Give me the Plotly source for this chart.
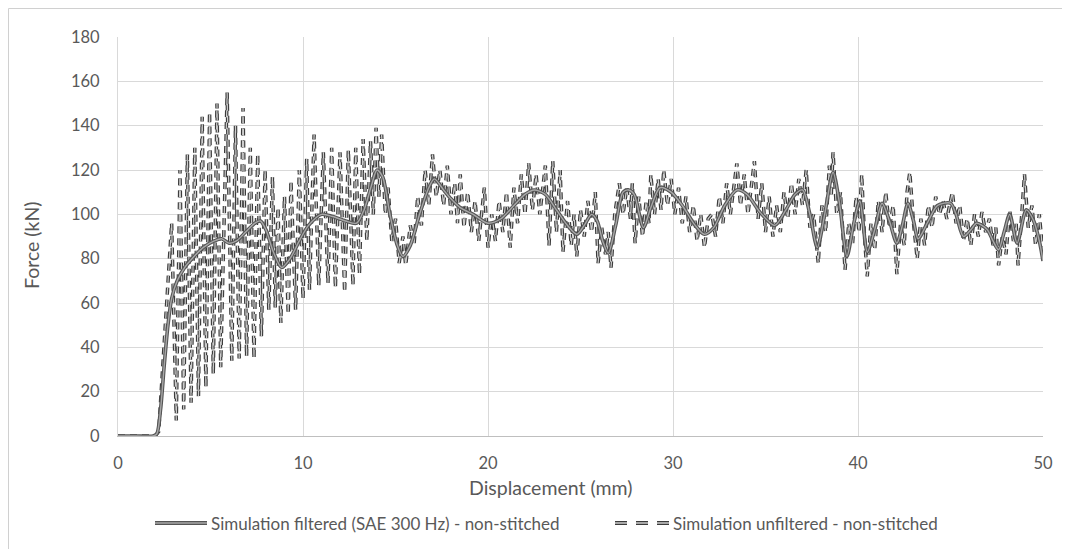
import plotly.graph_objects as go

# ---------------- data ----------------
filt_x = [0.0, 1.0, 1.9, 2.1, 2.3, 2.5, 2.7, 2.9, 3.2, 3.6, 4.0, 4.6, 5.2, 5.6, 6.0, 6.4, 6.9, 7.4, 7.7,
          8.0, 8.4, 8.85, 9.3, 9.8, 10.3, 11.0, 11.6, 12.3, 12.9, 13.3, 13.7, 14.0, 14.3, 14.7, 15.1,
          15.4, 15.8, 16.3, 16.8, 17.1, 17.6, 18.0, 18.5, 19.2, 20.0, 20.7, 21.4, 22.0, 22.5, 23.1,
          23.7, 24.3, 24.8, 25.2, 25.6, 25.9, 26.2, 26.5, 26.9, 27.3, 27.6, 27.9, 28.4, 28.8, 29.3,
          29.9, 30.5, 31.2, 31.7, 32.2, 32.8, 33.45, 34.0, 34.7, 35.5, 36.1, 36.6, 37.0, 37.4, 37.8,
          38.2, 38.65, 39.0, 39.4, 39.75, 40.1, 40.5, 40.9, 41.3, 41.7, 42.1, 42.4, 42.7, 43.0, 43.25,
          43.8, 44.3, 45.0, 45.3, 45.7, 46.1, 46.4, 46.7, 47.0, 47.3, 47.6, 47.9, 48.2, 48.6, 49.1,
          49.5, 49.8, 50.0]
filt_y = [0, 0, 0, 1, 12, 32, 50, 62, 70, 76, 80, 85, 88, 89, 87, 88, 92, 96, 97,
          93, 83, 76, 80, 88, 95, 100, 99, 97, 96, 102, 113, 120, 117, 100, 86,
          81, 86, 100, 112, 116, 111, 107, 103, 100, 96, 98, 104, 109, 111, 109,
          102, 95, 91, 95, 100, 97, 88, 82.5, 95, 110, 111, 109, 94, 103, 112,
          110, 104, 95, 91, 94, 104, 111, 109, 101, 95, 102, 109, 111, 100, 85,
          100, 119, 105, 81, 95, 106, 83, 93, 105, 97, 87, 95, 105, 97, 89,
          97, 104, 105, 100, 90, 93, 96, 95, 93, 88, 84, 92, 100, 87, 102,
          97, 88, 79]

unf_x = [0.0, 1.0, 2.0, 2.2, 2.9, 3.15, 3.35, 3.55, 3.75, 3.95, 4.15, 4.35, 4.55, 4.75, 4.95, 5.15,
         5.35, 5.55, 5.9, 6.15, 6.35, 6.55, 6.76, 6.95, 7.15, 7.35, 7.55, 7.75, 7.95, 8.15, 8.35,
         8.5, 8.65, 8.8, 9.0, 9.2, 9.35, 9.6, 9.8, 10.0, 10.2, 10.35, 10.6, 10.85, 11.1, 11.35,
         11.55, 11.75, 12.0, 12.25, 12.45, 12.7, 12.85, 13.05, 13.25, 13.45, 13.65, 13.8, 13.95,
         14.1, 14.25, 14.45, 14.6, 14.8, 15.0, 15.2, 15.4, 15.55, 15.8, 16.0, 16.2, 16.4, 16.6,
         16.8, 17.0, 17.2, 17.4, 17.6, 17.8, 18.0, 18.2, 18.35, 18.5, 18.7, 18.9, 19.1, 19.3, 19.5,
         19.8, 20.0, 20.2, 20.4, 20.6, 20.8, 21.0, 21.2, 21.4, 21.6, 21.8, 22.0, 22.2, 22.4, 22.6,
         22.8, 23.1, 23.3, 23.5, 23.7, 23.9, 24.05, 24.3, 24.5, 24.65, 24.8, 25.0, 25.2, 25.4,
         25.6, 25.8, 25.95, 26.15, 26.35, 26.5, 26.65, 26.85, 27.1, 27.3, 27.5, 27.7, 27.8, 27.95,
         28.15, 28.35, 28.55, 28.7, 28.8, 29.0, 29.2, 29.35, 29.5, 29.7, 29.9, 30.1, 30.3, 30.5,
         30.7, 30.9, 31.1, 31.3, 31.5, 31.7, 31.9, 32.1, 32.3, 32.5, 32.7, 32.9, 33.1, 33.45,
         33.65, 33.85, 34.05, 34.4, 34.6, 34.8, 35.0, 35.2, 35.4, 35.6, 35.8, 36.0, 36.2, 36.4,
         36.6, 36.8, 37.0, 37.2, 37.4, 37.6, 37.85, 38.05, 38.25, 38.45, 38.55, 38.65, 38.85,
         39.05, 39.3, 39.5, 39.7, 39.9, 40.05, 40.2, 40.35, 40.5, 40.7, 40.9, 41.1, 41.3, 41.5,
         41.7, 41.9, 42.1, 42.3, 42.5, 42.65, 42.8, 43.0, 43.2, 43.4, 43.6, 43.8, 44.0, 44.2,
         44.4, 44.6, 44.8, 45.1, 45.3, 45.5, 45.7, 45.9, 46.1, 46.3, 46.5, 46.7, 46.9, 47.1,
         47.3, 47.45, 47.6, 47.8, 48.0, 48.2, 48.4, 48.55, 48.65, 48.85, 49.0, 49.2, 49.4, 49.6,
         49.8, 50.0]
unf_y = [0, 0, 0, 2, 96, 7, 120, 12, 127, 15, 130, 18, 144, 22, 146, 28,
         150, 31, 155, 34, 140, 35, 148, 36, 130, 35, 127, 45, 120, 57, 117,
         58, 103, 51, 108, 55, 115, 57, 120, 62, 125, 66, 136, 68, 128, 69,
         130, 67, 128, 65, 129, 68, 130, 73, 134, 88, 133, 100, 139,
         108, 136, 100, 112, 88, 98, 78, 90, 77, 95, 86, 108, 95, 120,
         104, 127, 108, 120, 104, 122, 100, 114, 96, 118, 94, 110, 92, 106, 88,
         112, 85, 100, 88, 106, 92, 110, 85, 112, 96, 118, 100, 123, 102, 118,
         100, 122, 86, 124, 92, 120, 83, 106, 86, 100, 81, 102, 90, 106,
         92, 110, 78, 94, 82, 92, 76, 100, 114, 100, 112, 98, 114, 87,
         108, 90, 106, 96, 118, 100, 116, 102, 120, 104, 116, 100, 112, 96,
         108, 92, 104, 88, 100, 85, 98, 100, 90, 108, 96, 114, 100, 123,
         104, 118, 100, 124, 98, 114, 92, 108, 90, 104, 92, 110, 98, 114,
         100, 116, 104, 120, 94, 100, 78, 104, 92, 122, 108, 128, 100,
         110, 75, 96, 86, 108, 92, 118, 90, 72, 96, 84, 106, 92, 110,
         94, 104, 73, 96, 86, 110, 119, 96, 80, 98, 86, 104, 94, 108,
         100, 106, 98, 110, 96, 104, 88, 98, 86, 100, 90, 101, 92, 98,
         86, 94, 77, 90, 82, 102, 88, 96, 77, 100, 118, 94, 104, 86,
         100, 82]

x_ticks = [0, 10, 20, 30, 40, 50]
y_ticks = [0, 20, 40, 60, 80, 100, 120, 140, 160, 180]
x_title = "Displacement (mm)"
y_title = "Force (kN)"
name_filt = "Simulation filtered (SAE 300 Hz) - non-stitched"
name_unf = "Simulation unfiltered - non-stitched"

FONT = "Lato, Liberation Sans, sans-serif"
TXT = "#595959"
DASH = "7px,5px"
F_OUT, F_IN = "#555555", "#a8a8a8"
U_OUT, U_IN = "#3c3c3c", "#cccccc"

fig = go.Figure()
# unfiltered: dark dashed outline with light core
fig.add_trace(go.Scatter(x=unf_x, y=unf_y, mode="lines", name=name_unf, showlegend=False,
                         line=dict(color=U_OUT, width=3.5, dash=DASH), hoverinfo="skip"))
fig.add_trace(go.Scatter(x=unf_x, y=unf_y, mode="lines", showlegend=False,
                         line=dict(color=U_IN, width=1.2, dash=DASH), hoverinfo="skip"))
# filtered: double line
fig.add_trace(go.Scatter(x=filt_x, y=filt_y, mode="lines", name=name_filt, showlegend=False,
                         line=dict(color=F_OUT, width=3.6, shape="spline", smoothing=0.8),
                         hoverinfo="skip"))
fig.add_trace(go.Scatter(x=filt_x, y=filt_y, mode="lines", showlegend=False,
                         line=dict(color=F_IN, width=1.4, shape="spline", smoothing=0.8),
                         hoverinfo="skip"))

# figure placed at page offset (8, 8); geometry below in page pixels
OFF = 8
PL, PR, PT, PB = 118, 1043, 37, 436
W, H = 1058, 541
L, T = PL - OFF, PT - OFF
R, B = W - (PR - OFF), H - (PB - OFF)
pw, ph = PR - PL, PB - PT


def px(xp):
    return (xp - PL) / pw


def py(yp):
    return (PB - yp) / ph


# custom legend
ly = py(523)
fig.add_shape(type="line", xref="paper", yref="paper", x0=px(155), x1=px(207), y0=ly, y1=ly,
              line=dict(color=F_OUT, width=4))
fig.add_shape(type="line", xref="paper", yref="paper", x0=px(155), x1=px(207), y0=ly, y1=ly,
              line=dict(color=F_IN, width=1.4))
fig.add_shape(type="line", xref="paper", yref="paper", x0=px(615), x1=px(669), y0=ly, y1=ly,
              line=dict(color=U_OUT, width=4, dash="12px,9px"))
fig.add_shape(type="line", xref="paper", yref="paper", x0=px(615), x1=px(669), y0=ly, y1=ly,
              line=dict(color=U_IN, width=1.4, dash="12px,9px"))
fig.add_annotation(text=name_filt, xref="paper", yref="paper", x=px(209), y=ly, xanchor="left",
                   yanchor="middle", showarrow=False, font=dict(family=FONT, size=17, color=TXT))
fig.add_annotation(text=name_unf, xref="paper", yref="paper", x=px(671), y=ly, xanchor="left",
                   yanchor="middle", showarrow=False, font=dict(family=FONT, size=17, color=TXT))
# axis titles
fig.add_annotation(text=x_title, xref="paper", yref="paper", x=px(550), y=py(487), xanchor="center",
                   yanchor="middle", showarrow=False, font=dict(family=FONT, size=19.5, color=TXT))
fig.add_annotation(text=y_title, xref="paper", yref="paper", x=px(31), y=py(245), xanchor="center",
                   yanchor="middle", showarrow=False, textangle=-90,
                   font=dict(family=FONT, size=19.5, color=TXT))
# outer chart border (bottom edge falls outside the window)
fig.add_shape(type="rect", xref="paper", yref="paper", x0=px(8.5), x1=px(1065.5), y0=py(556),
              y1=py(8.5), line=dict(color="#d0d0d0", width=1), fillcolor="rgba(0,0,0,0)",
              layer="below")

fig.update_layout(
    width=W, height=H, margin=dict(l=L, r=R, t=T, b=B),
    paper_bgcolor="white", plot_bgcolor="white", showlegend=False,
    font=dict(family=FONT, color=TXT, size=16),
)
fig.update_xaxes(range=[0, 50], tickvals=x_ticks, showgrid=True, gridcolor="#d9d9d9", gridwidth=1,
                 zeroline=False, showline=True, linecolor="#bfbfbf", linewidth=1,
                 ticks="outside", ticklen=12, tickcolor="rgba(0,0,0,0)",
                 tickfont=dict(family=FONT, size=16.5, color=TXT))
fig.update_yaxes(range=[0, 180], tickvals=y_ticks, showgrid=True, gridcolor="#d9d9d9", gridwidth=1,
                 zeroline=False, showline=True, linecolor="#d9d9d9", linewidth=1,
                 ticks="outside", ticklen=14, tickcolor="rgba(0,0,0,0)",
                 tickfont=dict(family=FONT, size=16.5, color=TXT))

fig.write_html("out.html")
